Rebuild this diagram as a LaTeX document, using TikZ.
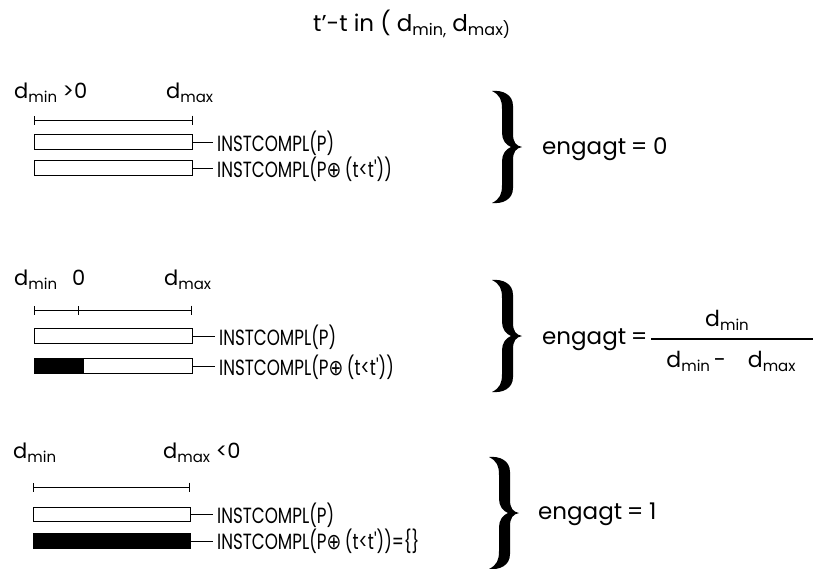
\documentclass[tikz,border=0pt]{standalone}
\usepackage{fontspec}
\setmainfont{Poppins}
\newfontfamily\condf{Poppins}[FakeStretch=0.76]
\newfontfamily\symf{DejaVu Sans}[FakeStretch=0.8]
\usetikzlibrary{arrows.meta}
\newcommand\dsub[1]{d\raisebox{-4.5pt}{\fontsize{15}{15}\selectfont #1}}
\newcommand\tsub[1]{d\raisebox{-4.5pt}{\fontsize{16}{16}\selectfont #1}}
\newcommand\opl{{\symf ⊕}}
\tikzset{
  lbl/.style={anchor=base west, inner sep=0pt, font=\fontsize{21}{24}\selectfont},
  itxt/.style={anchor=west, inner sep=0pt, font=\condf\fontsize{22}{24}\selectfont},
  etxt/.style={anchor=base west, inner sep=0pt, font=\fontsize{23}{26}\selectfont},
  frac/.style={anchor=base, inner sep=0pt, font=\fontsize{22}{26}\selectfont},
  barbox/.style={draw, line width=1.3pt, inner sep=0pt, anchor=north west, minimum width=158pt},
  ival/.style={line width=0.9pt, {Bar[width=9pt]}-{Bar[width=9pt]}},
  conn/.style={line width=1.1pt, shorten >=4pt},
}
\newcommand\bigbrace{%
  \fill (0,0) .. controls (10,-1) and (21,3) .. (21,15) -- (21,43)
    .. controls (21,51) and (24,55) .. (30,56)
    .. controls (24,57) and (21,61) .. (21,69) -- (21,97)
    .. controls (21,109) and (10,113) .. (0,112)
    .. controls (8,108) and (10,103) .. (10,94) -- (10,70)
    .. controls (10,63) and (14,58) .. (19,56)
    .. controls (14,54) and (10,49) .. (10,42) -- (10,18)
    .. controls (10,9) and (8,4) .. (0,0) -- cycle;}
\begin{document}
\begin{tikzpicture}[x=1pt,y=-1pt]
\useasboundingbox[fill=white] (0,0) rectangle (813,568);

% title
\node[anchor=base west, inner sep=0pt, font=\fontsize{23}{26}\selectfont] (title) at (313,31) {t'-t in ( \tsub{min,} \tsub{max)}};

% ---------- section 1
\node[lbl] (l1a) at (14,98) {\dsub{min} >0};
\node[lbl] (l1b) at (166,98) {\dsub{max}};
\coordinate (i1a) at (34,120);
\coordinate (i1b) at (193,120);
\draw[ival] (i1a) -- (i1b);
\node[barbox, minimum height=15pt] (b11) at (34,134) {};
\node[barbox, minimum height=15pt] (b12) at (34,160) {};
\node[itxt] (t11) at (217,143) {INSTCOMPL(P)};
\node[itxt] (t12) at (217,169) {INSTCOMPL(P\opl\,(t<t'))};
\draw[conn] (b11.east) -- (b11.east -| t11.west);
\draw[conn] (b12.east) -- (b12.east -| t12.west);
\begin{scope}[shift={(492,91)}]\bigbrace\end{scope}
\node[etxt] (e1) at (542,154) {engagt\hspace{0.2em}=\hspace{0.25em}0};

% ---------- section 2
\node[lbl] (l2a) at (14,285) {\dsub{min}};
\node[lbl] (l2z) at (72,285) {0};
\node[lbl] (l2b) at (164,285) {\dsub{max}};
\coordinate (i2a) at (34,310);
\coordinate (i2m) at (78,310);
\coordinate (i2b) at (192,310);
\draw[ival] (i2a) -- (i2b);
\draw[line width=0.9pt] ([yshift=-4.5pt]i2m) -- ([yshift=4.5pt]i2m);
\node[barbox, minimum height=15pt] (b21) at (34,328) {};
\node[barbox, minimum height=15pt] (b22) at (34,358) {};
\node[barbox, minimum height=15pt, minimum width=49pt, fill=black] (f22) at (34,358) {};
\node[itxt] (t21) at (219,337) {INSTCOMPL(P)};
\node[itxt] (t22) at (219,367) {INSTCOMPL(P\opl\,(t<t'))};
\draw[conn] (b21.east) -- (b21.east -| t21.west);
\draw[conn] (b22.east) -- (b22.east -| t22.west);
\begin{scope}[shift={(492,280)}]\bigbrace\end{scope}
\node[etxt] (e2) at (542,344) {engagt\hspace{0.2em}=};
\node[frac] (num) at (727,326) {\dsub{min}};
\node[frac] (den) at (731,367) {\dsub{min}\,-\quad\dsub{max}};
\draw[line width=1.2pt] (651,339) -- (813,339);

% ---------- section 3
\node[lbl] (l3a) at (13,458) {\dsub{min}};
\node[lbl] (l3b) at (163,458) {\dsub{max} <0};
\coordinate (i3a) at (33,487);
\coordinate (i3b) at (190,487);
\draw[ival] (i3a) -- (i3b);
\node[barbox, minimum height=14pt, minimum width=157pt] (b31) at (33,507) {};
\node[barbox, minimum height=15pt, minimum width=157pt, fill=black] (b32) at (33,533) {};
\node[itxt] (t31) at (217,515) {INSTCOMPL(P)};
\node[itxt] (t32) at (217,541) {INSTCOMPL(P\opl\,(t<t'))=\{\}};
\draw[conn] (b31.east) -- (b31.east -| t31.west);
\draw[conn] (b32.east) -- (b32.east -| t32.west);
\begin{scope}[shift={(489,457)}]\bigbrace\end{scope}
\node[etxt] (e3) at (538,519) {engagt\hspace{0.2em}=\hspace{0.25em}1};
\end{tikzpicture}
\end{document}
